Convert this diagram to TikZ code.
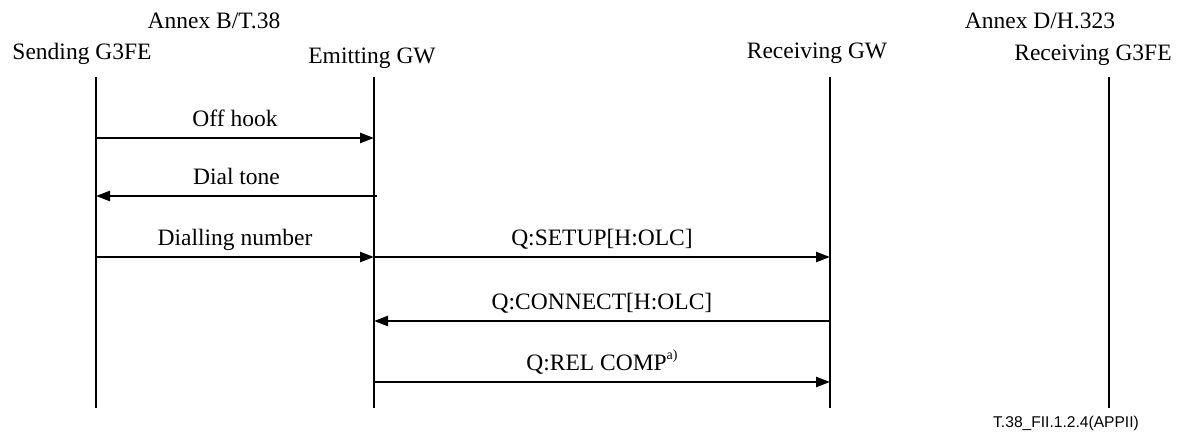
\documentclass[tikz,border=0pt]{standalone}
\usepackage{fontspec}
\setmainfont{Liberation Serif}
\newfontfamily\figsans{Liberation Sans}
\usetikzlibrary{arrows.meta}
\begin{document}
\begin{tikzpicture}[x=0.5pt,y=-0.5pt,
  lifeline/.style={line width=1.2pt},
  msg/.style={line width=1.2pt,-{Triangle[length=7pt,width=5pt]}},
  title/.style={font=\fontsize{11.75}{14}\selectfont, inner sep=0pt},
  msglabel/.style={font=\fontsize{11.75}{14}\selectfont, inner sep=0pt, anchor=base},
  tag/.style={font=\figsans\fontsize{7.8}{9}\selectfont, inner sep=0pt}]
\useasboundingbox (0,0) rectangle (1185,432);

% entity headings
\node[title] (annexB)  at (214,21) {Annex B/T.38};
\node[title] (sendT)   at (82,54)  {Sending G3FE};
\node[title] (emitT)   at (372,58) {Emitting GW};
\node[title] (recvgwT) at (817,53) {Receiving GW};
\node[title] (annexD)  at (1040,21) {Annex D/H.323};
\node[title] (recvfeT) at (1093,55) {Receiving G3FE};

% lifelines
\coordinate (sTop) at (96,77);   \coordinate (sBot) at (96,408);
\coordinate (eTop) at (374,77);  \coordinate (eBot) at (374,408);
\coordinate (rTop) at (830,77);  \coordinate (rBot) at (830,408);
\coordinate (fTop) at (1109,77); \coordinate (fBot) at (1109,408);
\draw[lifeline] (sTop) -- (sBot);
\draw[lifeline] (eTop) -- (eBot);
\draw[lifeline] (rTop) -- (rBot);
\draw[lifeline] (fTop) -- (fBot);

% message end points
\coordinate (m1a) at (96,138);  \coordinate (m1b) at (374,138);
\coordinate (m2a) at (377,196); \coordinate (m2b) at (96,196);
\coordinate (m3a) at (96,257);  \coordinate (m3b) at (374,257);
\coordinate (m4a) at (374,257); \coordinate (m4b) at (830,257);
\coordinate (m5a) at (830,321); \coordinate (m5b) at (374,321);
\coordinate (m6a) at (374,382); \coordinate (m6b) at (830,382);

% messages
\draw[msg] (m1a) -- (m1b) node[midway, msglabel, yshift=5.5pt] {Off hook};
\draw[msg] (m2a) -- (m2b) node[midway, msglabel, yshift=5.5pt] {Dial tone};
\draw[msg] (m3a) -- (m3b) node[midway, msglabel, yshift=5.5pt] {Dialling number};
\draw[msg] (m4a) -- (m4b) node[midway, msglabel, yshift=5.5pt] {Q:SETUP[H:OLC]};
\draw[msg] (m5a) -- (m5b) node[midway, msglabel, yshift=5.5pt] {Q:CONNECT[H:OLC]};
\draw[msg] (m6a) -- (m6b) node[midway, msglabel, yshift=5.5pt]
  {Q:REL COMP\raisebox{1.1ex}{\fontsize{7}{8}\selectfont a)}};

% figure identifier
\node[tag] (figid) at (1066,423) {T.38\_FII.1.2.4(APPII)};
\end{tikzpicture}
\end{document}
